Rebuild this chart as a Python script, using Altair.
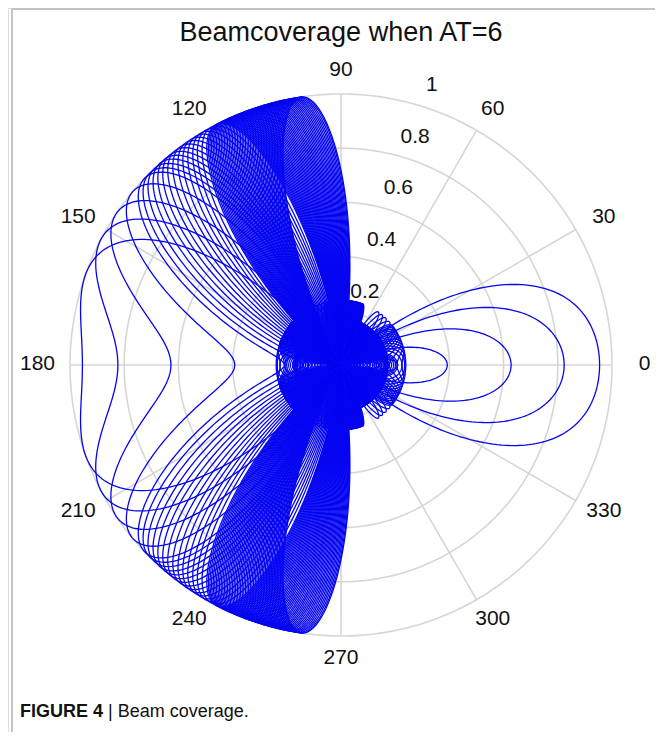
import altair as alt
import numpy as np
import pandas as pd

# ---------------- values ----------------
TITLE = "Beamcoverage when AT=6"
CAPTION_BOLD = "FIGURE 4"
CAPTION_TEXT = "| Beam coverage."

ring_values = [0.2, 0.4, 0.6, 0.8, 1.0]
ring_labels = ["0.2", "0.4", "0.6", "0.8", "1"]
spoke_angles = [0, 30, 60, 90, 120, 150, 180, 210, 240, 270, 300, 330]
spoke_labels = ["0", "30", "60", "90", "120", "150", "180", "210", "240", "270", "300", "330"]

# array of AT=6 elements, half-wavelength spacing
n_elements = 6
spacing_wl = 0.5
# beam steering angles (degrees).
# widely spaced beams: read from the notch crossings on the 180 axis
# (0.94, 0.80, 0.60, 0.38) and the matching lobes pointing at 0
steer_deg_wide = [160.6, 152.4, 146.0, 140.4]
# evenly spaced beams fanning over 120-150
steer_deg_mid = [136.5, 135.0, 133.5, 132.0, 130.6, 129.2, 127.8, 126.4, 125.0,
                 123.7, 122.4, 121.1, 119.9, 118.7, 117.5]
# tightly packed beams that form the solid region next to 90
steer_deg_dense = [117.1, 116.7, 116.3, 115.9, 115.5, 115.1, 114.7, 114.3, 113.9,
                   113.5, 113.1, 112.7, 112.3, 111.9, 111.5, 111.1, 110.7, 110.3,
                   109.9, 109.5, 109.1, 108.7, 108.3, 107.9, 107.5, 107.1, 106.7,
                   106.3, 105.9, 105.5, 105.1, 104.7, 104.3, 103.9, 103.5, 103.1,
                   102.7, 102.3, 101.9, 101.5, 101.1, 100.7, 100.3, 99.9, 99.5,
                   99.1, 98.7, 98.4]

# ---------------- build tables ----------------
theta_deg = np.arange(0, 360.5, 0.5)
th = np.radians(theta_deg)
rows = []
for b, d0 in enumerate(steer_deg_wide + steer_deg_mid + steer_deg_dense):
    c0 = np.cos(np.radians(d0))
    psi = 2 * np.pi * spacing_wl * (np.cos(th) - c0)
    num = np.sin(n_elements * psi / 2)
    den = n_elements * np.sin(psi / 2)
    with np.errstate(divide="ignore", invalid="ignore"):
        af = np.where(np.abs(den) < 1e-9, 1.0, np.abs(num / den))
    rows.append(pd.DataFrame({"beam": b, "i": np.arange(len(th)),
                              "x": af * np.cos(th), "y": af * np.sin(th)}))
beams = pd.concat(rows, ignore_index=True)

ga = np.radians(np.arange(0, 361, 1))
grid = pd.concat([pd.DataFrame({"ring": v, "i": np.arange(len(ga)),
                                "x": v * np.cos(ga), "y": v * np.sin(ga)})
                  for v in ring_values], ignore_index=True)

spokes = pd.DataFrame({"a": spoke_angles})
spokes["x"] = 0.0
spokes["y"] = 0.0
spokes["x2"] = np.cos(np.radians(spokes["a"]))
spokes["y2"] = np.sin(np.radians(spokes["a"]))

alab = pd.DataFrame({"t": spoke_labels,
                     "x": 1.12 * np.cos(np.radians(spoke_angles)),
                     "y": 1.085 * np.sin(np.radians(spoke_angles))})

rl_ang = np.radians(72)
rlab = pd.DataFrame({"t": ring_labels,
                     "x": (np.array(ring_values) + 0.085) * np.cos(rl_ang),
                     "y": (np.array(ring_values) + 0.085) * np.sin(rl_ang)})

# ---------------- scales ----------------
W, H = 647, 724
PX = 271.0          # pixels per unit radius
CX, CY = 333.0, 357.0
xs = alt.Scale(domain=[-CX / PX, (W - CX) / PX], nice=False, zero=False)
ys = alt.Scale(domain=[-(H - CY) / PX, CY / PX], nice=False, zero=False)
X = lambda f="x": alt.X(f"{f}:Q", scale=xs, axis=None)
Y = lambda f="y": alt.Y(f"{f}:Q", scale=ys, axis=None)

FONT = "Liberation Sans"
GRID_C = "#d6d6d6"

grid_l = alt.Chart(grid).mark_line(color=GRID_C, strokeWidth=1.6).encode(
    x=X(), y=Y(), detail="ring:N", order="i:Q")
spoke_l = alt.Chart(spokes).mark_rule(color=GRID_C, strokeWidth=1.6).encode(
    x=X(), y=Y(), x2="x2:Q", y2="y2:Q")
beam_l = alt.Chart(beams).mark_line(color="#0505f2", strokeWidth=1.3).encode(
    x=X(), y=Y(), detail="beam:N", order="i:Q")
alab_l = alt.Chart(alab).mark_text(font=FONT, fontSize=21, color="#111",
                                   align="center", baseline="middle", dy=-1).encode(
    x=X(), y=Y(), text="t:N")
rlab_l = alt.Chart(rlab).mark_text(font=FONT, fontSize=21, color="#111",
                                   align="center", baseline="middle").encode(
    x=X(), y=Y(), text="t:N")

one = pd.DataFrame({"k": [0]})
title_l = alt.Chart(one).mark_text(font=FONT, fontSize=27, color="#111",
                                   align="center", baseline="middle").encode(
    x=alt.value(333), y=alt.value(25), text=alt.value(TITLE))
cap1 = alt.Chart(one).mark_text(font=FONT, fontSize=18, fontWeight="bold",
                                color="#111", align="left", baseline="middle").encode(
    x=alt.value(12), y=alt.value(704), text=alt.value(CAPTION_BOLD))
cap2 = alt.Chart(one).mark_text(font=FONT, fontSize=18, color="#111",
                                align="left", baseline="middle").encode(
    x=alt.value(100), y=alt.value(704), text=alt.value(CAPTION_TEXT))

frame_c = "#c4c4c4"
fr_left = alt.Chart(one).mark_rule(color=frame_c, strokeWidth=2).encode(
    x=alt.value(4), x2=alt.value(4), y=alt.value(0), y2=alt.value(H))
fr_top = alt.Chart(one).mark_rule(color=frame_c, strokeWidth=2).encode(
    x=alt.value(4), x2=alt.value(649), y=alt.value(1), y2=alt.value(1))
fr_right = alt.Chart(one).mark_rule(color=frame_c, strokeWidth=2).encode(
    x=alt.value(649), x2=alt.value(649), y=alt.value(0), y2=alt.value(H))

chart = alt.layer(grid_l, spoke_l, beam_l, alab_l, rlab_l, title_l, cap1, cap2,
                  fr_left, fr_top, fr_right).properties(
    width=W, height=H, autosize=alt.AutoSizeParams(type="none"), padding=0
).configure_view(stroke=None).configure(background="white")

chart.save("out.html", embed_options={"renderer": "svg", "actions": False})
